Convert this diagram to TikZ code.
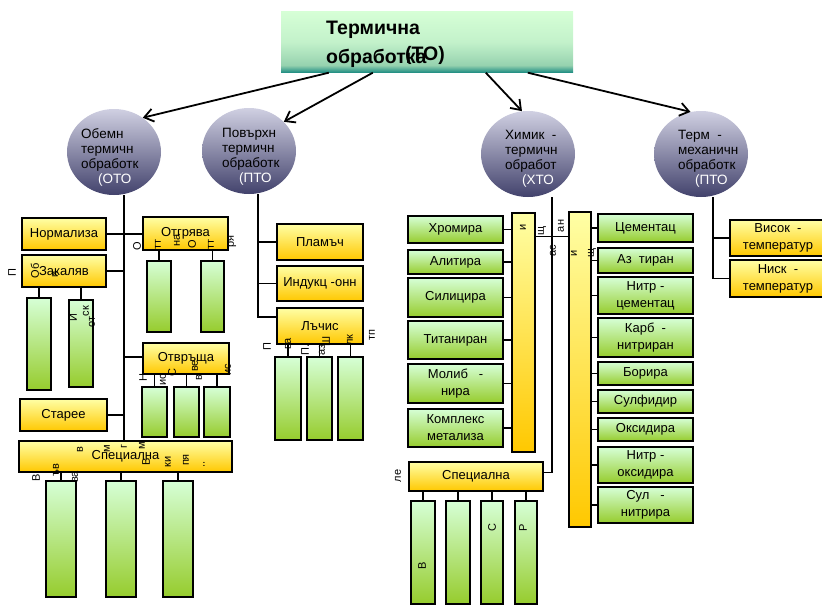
\documentclass[tikz,border=0pt]{standalone}
\usepackage{fontspec}
\setmainfont{Liberation Sans}
\usetikzlibrary{arrows.meta,shapes.geometric,positioning}

\definecolor{grnTop}{RGB}{214,255,214}
\definecolor{grnBot}{RGB}{150,204,45}
\definecolor{ylwTop}{RGB}{255,255,165}
\definecolor{ylwBot}{RGB}{255,200,0}
\definecolor{ellTop}{RGB}{208,208,226}
\definecolor{ellBot}{RGB}{66,66,108}
\definecolor{tealMid}{RGB}{150,210,175}
\definecolor{tealBot}{RGB}{30,140,130}

% light green fading into teal near the bottom edge
\pgfdeclareverticalshading{rootfade}{100bp}{color(0bp)=(tealBot); color(25bp)=(tealBot);
  color(31bp)=(tealMid); color(50bp)=(grnTop!70!tealMid); color(75bp)=(grnTop); color(100bp)=(grnTop)}

\begin{document}
\begin{tikzpicture}[
  x=1pt, y=-1pt,
  font=\fontsize{13}{17}\selectfont,
  sz/.style 2 args={minimum width=#1pt, minimum height=#2pt},
  topbox/.style={shading=rootfade, inner sep=0pt},
  title/.style={font=\fontsize{19.5}{29}\selectfont\bfseries, align=left, inner sep=0pt},
  ybox/.style={draw, line width=1.4pt, top color=ylwTop, bottom color=ylwBot, inner sep=1pt, align=center},
  gbox/.style={draw, line width=1.4pt, top color=grnTop, bottom color=grnBot, inner sep=1pt, align=center},
  ell/.style={ellipse, inner sep=0pt, minimum width=94pt, minimum height=86pt,
    top color=ellTop, bottom color=ellBot},
  elltxt/.style={anchor=west, align=left, inner sep=0pt, font=\fontsize{13.5}{15}\selectfont},
  frag/.style={rotate=90, inner sep=0pt, font=\fontsize{11}{11}\selectfont},
  lnk/.style={line width=1.6pt},
  arr/.style={-{Straight Barb[length=9pt,width=13pt]}, line width=1.8pt}
]
  \useasboundingbox (0,0) rectangle (822,605);

  % root
  \node[topbox, sz={292}{61}] (to) at (427,42) {};
  \node[title, anchor=west] (toName) at (326,44) {Термична\\обработка};
  \node[title] (toAbbr) at (425,55) {(ТО)};

  % the four kinds
  \node[ell] (oto) at (114,152) {};
  \node[ell] (pto) at (249,151) {};
  \node[ell] (hto) at (528,154) {};
  \node[ell] (tmo) at (701,154) {};
  \node[elltxt] (otoT) at (81,157) {Обемн\\термичн\\обработк\\\hspace*{17pt}\textcolor{white}{(ОТО}};
  \node[elltxt] (ptoT) at (222,157) {Повърхн\\термичн\\обработк\\\hspace*{17pt}\textcolor{white}{(ПТО}};
  \node[elltxt] (htoT) at (505,159) {Химик \ -\\термичн\\обработ\\\hspace*{17pt}\textcolor{white}{(ХТО}};
  \node[elltxt] (tmoT) at (678,159) {Терм \ -\\механичн\\обработк\\\hspace*{17pt}\textcolor{white}{(ПТО}};

  \draw[arr] ([xshift=48pt]to.south west) -- (oto.50);
  \draw[arr] ([xshift=92pt]to.south west) -- (pto.40);
  \draw[arr] ([xshift=205pt]to.south west) -- (hto.98);
  \draw[arr] ([xshift=247pt]to.south west) -- (tmo.104);

  % volume treatment
  \node[ybox, sz={84}{32}] (norm) at (64,234) {Нормализа};
  \node[ybox, sz={84}{32}] (zak) at (64,271) {Закаляв};
  \node[ybox, sz={85}{33}] (otg) at (185.5,233.5) {Отгрява};
  \node[ybox, sz={86}{31}] (otv) at (186,358.5) {Отвръща};
  \node[ybox, sz={87}{32}] (star) at (63.5,415) {Старее};
  \node[ybox, sz={213}{31}] (spec1) at (125.5,456.5) {Специална};

  \node[gbox, sz={24}{92}] (zb1) at (39,344) {};
  \node[gbox, sz={24}{87}] (zb2) at (81,343.5) {};
  \node[gbox, sz={24}{71}] (ob1) at (159,296.5) {};
  \node[gbox, sz={23}{71}] (ob2) at (212.5,296.5) {};
  \node[gbox, sz={25}{50}] (vb1) at (154.5,412) {};
  \node[gbox, sz={25}{50}] (vb2) at (186.5,412) {};
  \node[gbox, sz={26}{50}] (vb3) at (217,412) {};
  \node[gbox, sz={30}{116}] (sb1) at (61,539) {};
  \node[gbox, sz={30}{116}] (sb2) at (121,539) {};
  \node[gbox, sz={30}{116}] (sb3) at (178,539) {};

  \coordinate (otoJ) at ([xshift=10pt]oto.south);
  \draw[lnk] (otoJ) -- (otoJ |- spec1.north);
  \draw[lnk] (norm.east) -- (norm.east -| otg.west);
  \draw[lnk] (zak.east) -- (zak.east -| otoJ);
  \draw[lnk] ([yshift=1.5pt]otv.west -| otoJ) -- ([yshift=1.5pt]otv.west);
  \draw[lnk] (star.east) -- (star.east -| otoJ);

  % surface treatment
  \node[ybox, sz={86}{36}] (plam) at (320,242) {Пламъч};
  \node[ybox, sz={86}{35}] (ind) at (320,283.5) {Индукц -онн};
  \node[ybox, sz={86}{36}] (lach) at (320,326) {Лъчис};
  \node[gbox, sz={26}{83}] (lb1) at (288,398.5) {};
  \node[gbox, sz={25}{83}] (lb2) at (319.5,398.5) {};
  \node[gbox, sz={25}{83}] (lb3) at (350.5,398.5) {};

  \coordinate (ptoJ) at ([xshift=9pt]pto.south);
  \draw[lnk] (ptoJ) |- ([yshift=9pt]lach.west);
  \draw[lnk] (ptoJ |- plam.west) -- (plam.west);
  \draw[lnk] (ptoJ |- ind.west) -- (ind.west);

  % chemical-thermal treatment
  \node[ybox, sz={23}{239}] (lbar) at (523.5,332.5) {};
  \node[ybox, sz={22}{315}] (rbar) at (580,369.5) {};

  \node[gbox, sz={95}{27}] (hrom) at (455.5,229.5) {Хромира};
  \node[gbox, sz={95}{24}] (alit) at (455.5,262) {Алитира};
  \node[gbox, sz={95}{39}] (silc) at (455.5,297.5) {Силицира};
  \node[gbox, sz={95}{38}] (titn) at (455.5,340) {Титаниран};
  \node[gbox, sz={95}{39}] (molb) at (455.5,383.5) {Молиб \ \ -\\нира};
  \node[gbox, sz={95}{38}] (kmpl) at (455.5,428) {Комплекс\\метализа};

  \node[gbox, sz={95}{28}] (cem) at (645.5,228) {Цементац};
  \node[gbox, sz={95}{25}] (azot) at (645.5,260.5) {Аз \ тиран};
  \node[gbox, sz={95}{37}] (nitc) at (645.5,295.5) {Нитр -\\цементац};
  \node[gbox, sz={95}{39}] (karb) at (645.5,337.5) {Карб \ -\\нитриран};
  \node[gbox, sz={95}{23}] (bor) at (645.5,373.5) {Борира};
  \node[gbox, sz={95}{23}] (sulf) at (645.5,401.5) {Сулфидир};
  \node[gbox, sz={95}{23}] (oks) at (645.5,429.5) {Оксидира};
  \node[gbox, sz={95}{36}] (nito) at (645.5,465) {Нитр -\\оксидира};
  \node[gbox, sz={95}{36}] (sufn) at (645.5,505) {Сул \ \ -\\нитрира};

  \node[ybox, sz={134}{29}] (spec2) at (476,476.5) {Специална};
  \node[gbox, sz={24}{103}] (hb1) at (423,552.5) {};
  \node[gbox, sz={24}{103}] (hb2) at (458,552.5) {};
  \node[gbox, sz={22}{103}] (hb3) at (492,552.5) {};
  \node[gbox, sz={22}{103}] (hb4) at (526,552.5) {};

  \coordinate (htoJ) at ([xshift=24pt]hto.south);
  \draw[lnk] (htoJ) |- ([yshift=4pt]spec2.east);
  \draw[lnk] ([yshift=-24pt]lbar.north east) -- ([yshift=-24pt]lbar.north east -| rbar.west);
  \foreach \b in {hrom,alit,silc,titn,molb,kmpl}
    \draw[lnk] (\b.east) -- (\b.east -| lbar.west);
  \foreach \b in {cem,azot,nitc,karb,bor,sulf,oks,nito,sufn}
    \draw[lnk] (rbar.east |- \b.west) -- (\b.west);

  % thermo-mechanical treatment
  \node[ybox, sz={96}{36}] (vis) at (778,238) {Висок \ -\\температур};
  \node[ybox, sz={96}{37}] (nisk) at (778,278.5) {Ниск \ -\\температур};
  \coordinate (tmoJ) at ([xshift=12pt]tmo.south);
  \draw[lnk] (tmoJ) |- (nisk.west);
  \draw[lnk] (tmoJ |- vis.west) -- (vis.west);

  % bars hanging from their boxes
  \foreach \b/\p in {zb1/zak,zb2/zak,ob1/otg,ob2/otg,vb1/otv,vb2/otv,vb3/otv,
      sb1/spec1,sb2/spec1,sb3/spec1,lb1/lach,lb2/lach,lb3/lach,
      hb1/spec2,hb2/spec2,hb3/spec2,hb4/spec2}
    \draw[lnk] (\b.north) -- (\b.north |- \p.south);

  % upright captions
  \foreach \fx/\fy/\ft [count=\i] in {
      12/273/П, 35/271/Об, 55/274/и, 73/318/И, 86/311/ск, 92/322/от,
      137/246/О, 158/244/тт, 177/240/на, 192/244/О, 211/244/тт, 232/242/ря,
      143/378/Н, 163/380/ис, 172/373/С, 195/366/ве, 199/378/в, 228/370/ис,
      80/450/в, 107/449/м, 124/446/г, 142/446/м, 146/462/В, 168/462/ки, 186/460/пя, 204/464/..,
      36/478/В, 56/470/ъв, 75/477/ва,
      267/347/П, 288/344/ва, 305/350/П., 322/350/аз, 326/341/Ш, 350/340/лк, 372/335/тп,
      523/227/и, 542/231/щ, 561/226/ан, 553/251/ас, 574/253/и, 592/253/щ,
      398/476/ле, 422/566/В, 492/528/С, 523/528/Р}
    \node[frag] (frag\i) at (\fx,\fy) {\ft};
\end{tikzpicture}
\end{document}
